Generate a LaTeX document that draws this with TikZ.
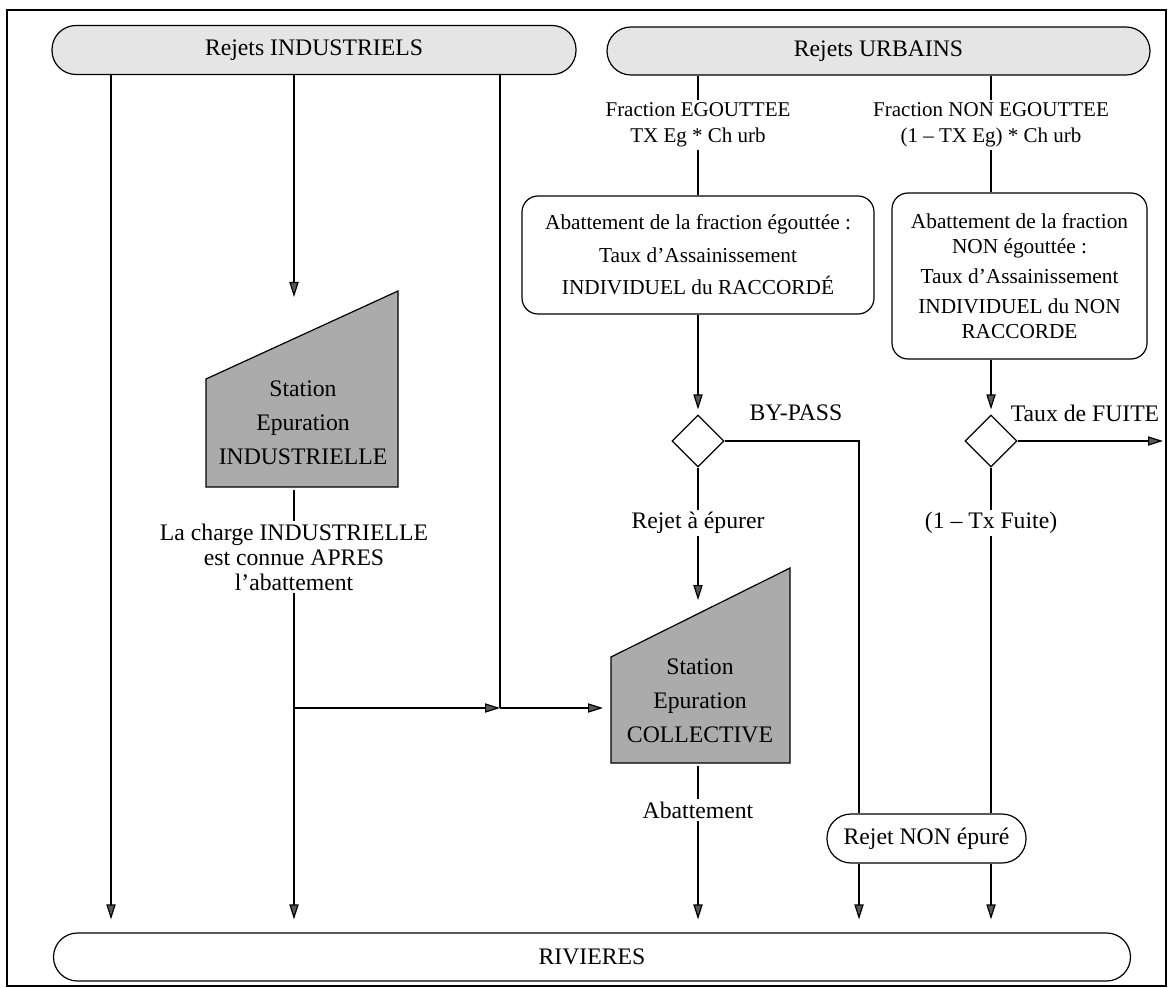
\documentclass[tikz,border=0pt]{standalone}
\usepackage{fontspec}
\setmainfont{Liberation Serif}
\usetikzlibrary{arrows.meta,shapes.geometric,calc}
\begin{document}
\begin{tikzpicture}[x=0.5pt,y=-0.5pt,
  ln/.style={line width=0.6pt},
  arr/.style={ln,-{Triangle[length=7.5pt,width=4.6pt,fill=black!65]}},
  pill/.style={draw,ln,rounded corners=12pt,inner sep=0pt,font=\fontsize{11.85}{14}\selectfont},
  rbox/.style={draw,ln,rounded corners=8pt,align=center,inner sep=0pt},
  lbl/.style={inner sep=1pt,align=center,font=\fontsize{11.85}{12.5}\selectfont},
  small/.style={inner sep=1pt,align=center,font=\fontsize{10.5}{13}\selectfont},
  dia/.style={draw,ln,diamond,aspect=1,inner sep=0pt,minimum width=26pt,minimum height=26pt},
  station/.style={draw,ln,fill=black!33},
  stext/.style={align=center,inner sep=0pt,font=\fontsize{11.85}{17}\selectfont}
]
\useasboundingbox (0,0) rectangle (1170,988);
\draw[ln] (7,10) rectangle (1166,986);

% column coordinates
\coordinate (cA) at (111,0);
\coordinate (cB) at (294,0);
\coordinate (cC) at (500,0);
\coordinate (cD) at (698,0);
\coordinate (cE) at (859,0);
\coordinate (cF) at (991,0);

% pills
\node[pill,fill=black!10,minimum width=262pt,minimum height=24.5pt] (indus) at (314,50) {Rejets INDUSTRIELS};
\node[pill,fill=black!10,minimum width=271.5pt,minimum height=24pt] (urb) at (878.5,51) {Rejets URBAINS};
\node[pill,minimum width=538.5pt,minimum height=24pt] (riv) at (592,957) {RIVIERES};
\node[pill,minimum width=99.5pt,minimum height=24.5pt] (nonEp) at (926.5,838.5) {Rejet NON épuré};

% fraction labels
\node[small] (fracEg) at (698,125) {Fraction EGOUTTEE\\TX Eg * Ch urb};
\node[small] (fracNEg) at (991,125) {Fraction NON EGOUTTEE\\(1 – TX Eg) * Ch urb};

% rounded boxes
\node[rbox,minimum width=176pt,minimum height=59pt,font=\fontsize{10.65}{16.25}\selectfont] (boxEg) at (698,255)
  {Abattement de la fraction égouttée :\\Taux d’Assainissement\\INDIVIDUEL du RACCORDÉ};
\node[rbox,minimum width=127.5pt,minimum height=83pt,font=\fontsize{10.65}{12.5}\selectfont] (boxNEg) at (1019.5,276)
  {Abattement de la fraction\\NON égouttée :\\[2.5pt]Taux d’Assainissement\\[2.5pt]INDIVIDUEL du NON\\RACCORDE};

% diamonds
\node[dia] (d1) at (698,441) {};
\node[dia] (d2) at (991,441) {};
\node[lbl] (bypass) at (796,413) {BY-PASS};
\node[lbl] (tfuite) at (1085,413) {Taux de FUITE};
\node[lbl] (rejEp) at (698,523) {Rejet à épurer};
\node[lbl] (fuite) at (991,523) {(1 – Tx Fuite)};

% stations
\filldraw[station] (206,487) -- (206,379) -- (398,291) -- (398,487) -- cycle;
\node[stext] (stInd) at (303,423) {Station\\Epuration\\INDUSTRIELLE};
\filldraw[station] (611,763) -- (611,657) -- (790,568) -- (790,763) -- cycle;
\node[stext] (stCol) at (700,701) {Station\\Epuration\\COLLECTIVE};
\coordinate (stIndTop) at (294,297);
\coordinate (stIndBot) at (294,490);
\coordinate (stColTop) at (698,600);
\coordinate (stColLeft) at (603,708);
\coordinate (stColBot) at (698,766);
\coordinate (jn) at (500,708);
\coordinate (fEnd) at (1163,441);

\node[lbl] (charge) at (294,557) {La charge INDUSTRIELLE\\est connue APRES\\l’abattement};
\node[lbl] (abat) at (698,810) {Abattement};

% connectors: industrial
\draw[arr,shorten >=6.5pt] (indus.south -| cA) -- (riv.north -| cA);
\draw[arr] (indus.south -| cB) -- (stIndTop);
\draw[ln] (indus.south -| cC) -- (jn);
\draw[ln] (stIndBot) -- (charge.north);
\draw[arr,shorten >=6.5pt] (charge.south) -- (riv.north -| charge.south);
\draw[arr] (charge.south |- jn) -- (jn);
\draw[arr] (jn) -- (stColLeft);

% connectors: urban, egouttee
\draw[ln] (urb.south -| cD) -- (fracEg.north);
\draw[ln] (fracEg.south) -- (boxEg.north);
\draw[arr,shorten >=2.5pt] (boxEg.south) -- (d1.north);
\draw[ln] (d1.east) -- (d1.east -| cE) -- (nonEp.north -| cE);
\draw[arr,shorten >=6.5pt] (nonEp.south -| cE) -- (riv.north -| cE);
\draw[ln] (d1.south) -- (rejEp.north);
\draw[arr] (rejEp.south) -- (stColTop);
\draw[ln] (stColBot) -- (abat.north);
\draw[arr,shorten >=6.5pt] (abat.south) -- (riv.north -| abat.south);

% connectors: urban, non egouttee
\draw[ln] (urb.south -| cF) -- (fracNEg.north);
\draw[ln] (fracNEg.south) -- (boxNEg.north -| fracNEg.south);
\draw[arr,shorten >=2.5pt] (boxNEg.south -| d2) -- (d2.north);
\draw[arr] (d2.east) -- (fEnd);
\draw[ln] (d2.south) -- (fuite.north);
\draw[ln] (fuite.south) -- (nonEp.north -| fuite.south);
\draw[arr,shorten >=6.5pt] (nonEp.south -| cF) -- (riv.north -| cF);
\end{tikzpicture}
\end{document}
